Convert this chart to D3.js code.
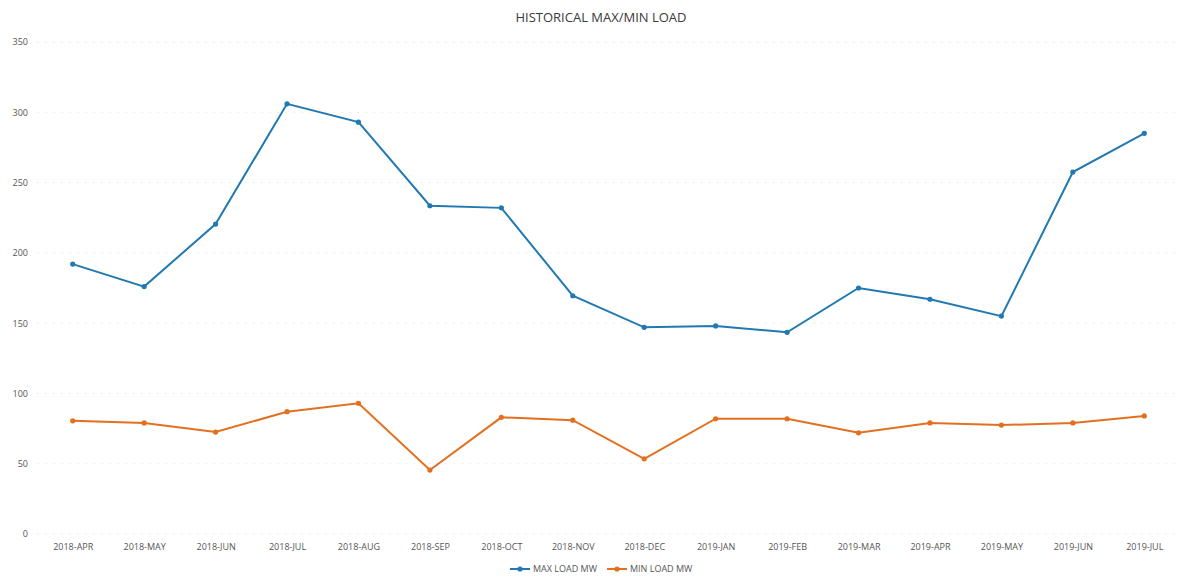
<!DOCTYPE html>
<html>
<head>
<meta charset="utf-8">
<script src="https://cdn.jsdelivr.net/npm/d3@7"></script>
<style>
	body { margin: 0; background: #fff; }
	svg text { font-family: "Open Sans", "Noto Sans", sans-serif; }
</style>
</head>
<body>
<div id="chart"></div>
<script>
// data
var months = ['2018-APR', '2018-MAY', '2018-JUN', '2018-JUL', '2018-AUG', '2018-SEP', '2018-OCT', '2018-NOV',
	'2018-DEC', '2019-JAN', '2019-FEB', '2019-MAR', '2019-APR', '2019-MAY', '2019-JUN', '2019-JUL'];
var maxLoad = [192, 176, 220.5, 306, 293, 233.5, 232, 169.5, 147, 148, 143.5, 175, 167, 155, 257.5, 285];
var minLoad = [80.5, 79, 72.5, 87, 93, 45.5, 83, 81, 53.5, 82, 82, 72, 79, 77.5, 79, 84];
var yTicks  = [0, 50, 100, 150, 200, 250, 300, 350];
var seriesNames  = ['MAX LOAD MW', 'MIN LOAD MW'];
var seriesColors = ['#2279b1', '#e2701f'];

var width  = 1180,
	height = 581,
	margin = {top: 42, right: 0, bottom: 47, left: 37};

var viewWidth  = width - margin.left - margin.right,
	viewHeight = height - margin.top - margin.bottom;

var svg = d3.select('#chart').append('svg')
	.attr('width', width)
	.attr('height', height);

svg.append('text')
	.attr('x', 601)
	.attr('y', 22)
	.attr('text-anchor', 'middle')
	.attr('font-size', 13)
	.attr('fill', '#3a3a3a')
	.text('HISTORICAL MAX/MIN LOAD');

var vis = svg.append('g')
	.attr('transform', 'translate(' + margin.left + ',' + margin.top + ')');

var xScale = d3.scalePoint()
	.domain(months)
	.range([0, viewWidth])
	.padding(0.5);

var yScale = d3.scaleLinear()
	.domain([0, 350])
	.range([viewHeight, 0]);

// faint gridlines (barely visible in the scan)
vis.append('g')
	.attr('class', 'grid')
	.selectAll('line')
	.data(yTicks)
	.enter().append('line')
	.attr('x1', 0)
	.attr('x2', viewWidth)
	.attr('y1', function(d) { return yScale(d); })
	.attr('y2', function(d) { return yScale(d); })
	.attr('stroke', '#ececec')
	.attr('stroke-dasharray', '2,6')
	.attr('stroke-width', 1);

var yAxis = d3.axisLeft(yScale)
	.tickValues(yTicks)
	.tickSize(0)
	.tickPadding(9);

var gy = vis.append('g').call(yAxis);
gy.select('.domain').remove();
gy.selectAll('text')
	.attr('font-size', 9)
	.attr('fill', '#555');

var xAxis = d3.axisBottom(xScale)
	.tickSize(0)
	.tickPadding(10);

var gx = vis.append('g')
	.attr('transform', 'translate(0,' + viewHeight + ')')
	.call(xAxis);
gx.select('.domain').remove();
gx.selectAll('text')
	.attr('font-size', 9)
	.attr('fill', '#555');

var line = d3.line()
	.x(function(d, i) { return xScale(months[i]); })
	.y(function(d) { return yScale(d); });

var series = [maxLoad, minLoad];

series.forEach(function(values, s) {
	var g = vis.append('g').attr('class', 'series');
	g.append('path')
		.attr('d', line(values))
		.attr('fill', 'none')
		.attr('stroke', seriesColors[s])
		.attr('stroke-width', 2);
	g.selectAll('circle')
		.data(values)
		.enter().append('circle')
		.attr('cx', function(d, i) { return xScale(months[i]); })
		.attr('cy', function(d) { return yScale(d); })
		.attr('r', 2.6)
		.attr('fill', seriesColors[s]);
});

// legend
var legend = svg.append('g')
	.attr('transform', 'translate(510,569)');

var item = legend.selectAll('g')
	.data(seriesNames)
	.enter().append('g')
	.attr('transform', function(d, i) { return 'translate(' + (i * 97) + ',0)'; });
item.append('line')
	.attr('x1', 0)
	.attr('x2', 20)
	.attr('stroke', function(d, i) { return seriesColors[i]; })
	.attr('stroke-width', 2);
item.append('circle')
	.attr('cx', 10)
	.attr('r', 2.6)
	.attr('fill', function(d, i) { return seriesColors[i]; });
item.append('text')
	.attr('x', 23)
	.attr('dy', '0.35em')
	.attr('font-size', 9)
	.attr('fill', '#555')
	.text(function(d) { return d; });
</script>
</body>
</html>
